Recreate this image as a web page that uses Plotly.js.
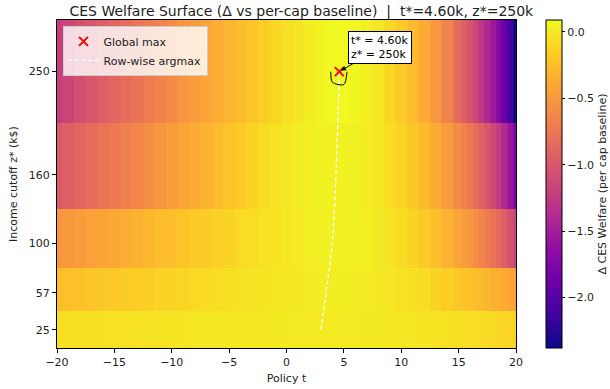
<!DOCTYPE html>
<html>
<head>
<meta charset="utf-8">
<script src="https://cdn.plot.ly/plotly-3.0.1.min.js"></script>
<style>html,body{margin:0;padding:0;background:#fff;}#chart{width:610px;height:389px;}</style>
</head>
<body>
<div id="chart"></div>
<script>
// Policy t grid (columns)
const tGrid = [-20,-19,-18,-17,-16,-15,-14,-13,-12,-11,-10,-9,-8,-7,-6,-5,-4,-3,-2,-1,0,1,2,3,4,5,6,7,8,9,10,11,12,13,14,15,15.5,16,16.5,17,17.5,18,18.5,19,19.5,20];
// Income cutoff z* (rows, k$)
const zRows = [25, 57, 100, 160, 250];
// Δ CES welfare per row
const row25  = [-0.06,-0.057,-0.054,-0.051,-0.048,-0.045,-0.042,-0.038,-0.035,-0.031,-0.028,-0.024,-0.021,-0.017,-0.014,-0.010,-0.007,-0.004,-0.001,0.002,0.005,0.008,0.010,0.012,0.012,0.011,0.009,0.006,0.002,-0.003,-0.009,-0.016,-0.024,-0.033,-0.043,-0.054,-0.060,-0.066,-0.072,-0.079,-0.086,-0.093,-0.100,-0.108,-0.116,-0.125];
const row57  = [-0.26,-0.245,-0.23,-0.215,-0.20,-0.19,-0.175,-0.16,-0.15,-0.135,-0.12,-0.11,-0.095,-0.085,-0.07,-0.06,-0.05,-0.035,-0.025,-0.015,-0.005,0.005,0.015,0.02,0.025,0.025,0.02,0.01,0.0,-0.015,-0.035,-0.06,-0.09,-0.12,-0.16,-0.20,-0.22,-0.24,-0.26,-0.28,-0.305,-0.33,-0.355,-0.38,-0.405,-0.43];
const row100 = [-0.53,-0.50,-0.47,-0.44,-0.42,-0.39,-0.36,-0.33,-0.30,-0.27,-0.25,-0.22,-0.19,-0.17,-0.14,-0.12,-0.09,-0.07,-0.05,-0.03,-0.01,0.01,0.03,0.04,0.045,0.045,0.04,0.03,0.0,-0.03,-0.07,-0.12,-0.18,-0.25,-0.33,-0.42,-0.47,-0.52,-0.58,-0.64,-0.71,-0.78,-0.86,-0.95,-1.05,-1.15];
const row160 = [-0.98,-0.93,-0.88,-0.83,-0.78,-0.73,-0.68,-0.63,-0.57,-0.52,-0.47,-0.42,-0.37,-0.32,-0.27,-0.22,-0.18,-0.13,-0.09,-0.05,-0.01,0.02,0.035,0.045,0.05,0.05,0.04,0.02,-0.02,-0.07,-0.13,-0.20,-0.28,-0.37,-0.48,-0.60,-0.67,-0.74,-0.82,-0.91,-1.01,-1.12,-1.25,-1.39,-1.56,-1.78];
const row250 = [-1.22,-1.15,-1.08,-1.01,-0.95,-0.89,-0.83,-0.77,-0.71,-0.65,-0.59,-0.53,-0.47,-0.42,-0.36,-0.31,-0.26,-0.21,-0.16,-0.11,-0.06,-0.02,0.02,0.06,0.089,0.090,0.072,0.035,-0.02,-0.10,-0.18,-0.27,-0.38,-0.51,-0.66,-0.84,-0.94,-1.04,-1.15,-1.27,-1.40,-1.54,-1.70,-1.88,-2.10,-2.38];
// Row-wise argmax path
const argmaxT = [3.0, 3.44, 3.99, 4.31, 4.6];
const argmaxZ = [25, 57, 100, 160, 250];
// Global max
const bestT = [4.6];
const bestZ = [250];
const nearMaxLevel = 0.085;
const yTicks = [25, 57, 100, 160, 250];

const plasma = [
  [0.0, '#0d0887'], [0.1, '#41049d'], [0.2, '#6a00a8'], [0.3, '#8f0da4'],
  [0.4, '#b12a90'], [0.5, '#cc4778'], [0.6, '#e16462'], [0.7, '#f2844b'],
  [0.8, '#fca636'], [0.9, '#fcce25'], [1.0, '#f0f921']
];

const zMatrix = [row25, row57, row100, row160, row250];
const FONT = 'DejaVu Sans, sans-serif';

const traces = [
  {
    type: 'heatmap', x: tGrid, y: zRows, z: zMatrix,
    colorscale: plasma, showlegend: false,
    colorbar: {
      x: 1.065, xanchor: 'left', xref: 'paper', xpad: 0, ypad: 0,
      y: 0.5, yanchor: 'middle', len: 1, lenmode: 'fraction',
      thickness: 16, outlinewidth: 1, outlinecolor: '#000',
      ticks: 'outside', ticklen: 3, tickcolor: '#000',
      tickformat: '.1f', dtick: 0.5, tick0: 0,
      tickfont: {family: FONT, size: 11, color: '#222'},
      title: {text: 'Δ CES Welfare (per cap baseline)', side: 'right', font: {family: FONT, size: 11, color: '#222'}}
    }
  },
  {
    type: 'contour', x: tGrid, y: zRows, z: zMatrix,
    autocontour: false,
    contours: {start: nearMaxLevel, end: nearMaxLevel, size: 1, coloring: 'none'},
    line: {color: '#000', width: 1, smoothing: 0.8},
    showscale: false, showlegend: false, hoverinfo: 'skip'
  },
  {
    type: 'scatter', mode: 'lines', x: argmaxT, y: argmaxZ,
    line: {color: '#fff', width: 1.3, dash: '4px,2.5px', shape: 'spline'},
    name: 'Row-wise argmax', legendrank: 2
  },
  {
    type: 'scatter', mode: 'markers', x: bestT, y: bestZ,
    marker: {symbol: 'x-thin-open', size: 9, color: 'red', line: {color: 'red', width: 2}},
    name: 'Global max', legendrank: 1
  }
];

const layout = {
  width: 610, height: 389,
  margin: {l: 57, r: 94, t: 20, b: 41, pad: 0, autoexpand: false},
  paper_bgcolor: '#fff', plot_bgcolor: '#fff',
  font: {family: FONT, size: 11, color: '#222'},
  title: {text: 'CES Welfare Surface (Δ vs per-cap baseline)  |  t*=4.60k, z*=250k',
          x: 0.494, xref: 'container', xanchor: 'center', y: 0.985, yanchor: 'top',
          font: {family: FONT, size: 14, color: '#222'}},
  xaxis: {
    range: [-20, 20], dtick: 5, tick0: 0,
    showgrid: true, gridcolor: 'rgba(190,190,190,0.45)', gridwidth: 1,
    layer: 'above traces', zeroline: false,
    showline: true, mirror: true, linecolor: '#000', linewidth: 1,
    ticks: 'outside', ticklen: 4, tickcolor: '#000',
    tickfont: {family: FONT, size: 11, color: '#222'},
    title: {text: 'Policy t', font: {family: FONT, size: 11, color: '#222'}, standoff: 6}
  },
  yaxis: {
    range: [9, 295], tickvals: yTicks, ticktext: yTicks.map(String),
    showgrid: false, zeroline: false, layer: 'above traces',
    showline: true, mirror: true, linecolor: '#000', linewidth: 1,
    ticks: 'outside', ticklen: 4, tickcolor: '#000',
    tickfont: {family: FONT, size: 11, color: '#222'},
    title: {text: 'Income cutoff z* (k$)', font: {family: FONT, size: 11, color: '#222'}, standoff: 8}
  },
  legend: {
    x: 0.012, y: 0.982, xanchor: 'left', yanchor: 'top',
    bgcolor: 'rgba(255,255,255,0.8)', bordercolor: '#ccc', borderwidth: 1,
    font: {family: FONT, size: 11, color: '#222'}, traceorder: 'normal',
    tracegroupgap: 0, itemwidth: 30
  },
  annotations: [{
    x: bestT[0], y: bestZ[0], xref: 'x', yref: 'y',
    text: 't* = 4.60k<br>z* = 250k',
    showarrow: true, arrowhead: 2, arrowsize: 1, arrowwidth: 1, arrowcolor: '#000',
    ax: 41, ay: -24, standoff: 2,
    bgcolor: '#fff', bordercolor: '#000', borderwidth: 1, borderpad: 2,
    align: 'left', font: {family: FONT, size: 11, color: '#000'}
  }]
};

Plotly.newPlot('chart', traces, layout, {displayModeBar: false, staticPlot: true});
</script>
</body>
</html>
